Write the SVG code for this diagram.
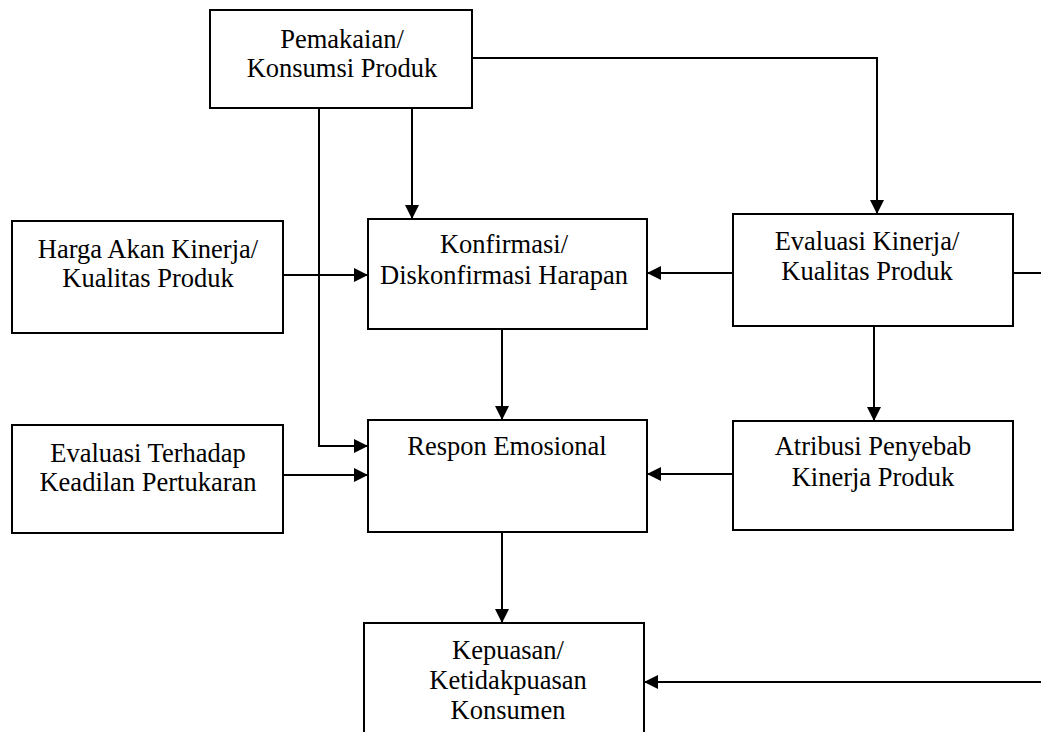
<svg xmlns="http://www.w3.org/2000/svg" width="1041" height="732" viewBox="0 0 1041 732">
<style>
.box{fill:#fff;stroke:#000;stroke-width:2}
.t{font-family:"Liberation Serif","Times New Roman",serif;font-size:26.5px;fill:#000;text-anchor:middle}
.c{fill:none;stroke:#000;stroke-width:2}
</style>
<defs>
<marker id="ah" viewBox="0 0 14 14" refX="14" refY="7" markerWidth="14" markerHeight="14" markerUnits="userSpaceOnUse" orient="auto">
<path d="M0 0 L14 7 L0 14 Z" fill="#000"/>
</marker>
</defs>
<rect width="1041" height="732" fill="#fff"/>
<g id="connectors">
<path class="c" d="M412 108 V219" marker-end="url(#ah)"/>
<path class="c" d="M319 108 V446 H368" marker-end="url(#ah)"/>
<path class="c" d="M472 58 H877 V214" marker-end="url(#ah)"/>
<path class="c" d="M283 275 H368" marker-end="url(#ah)"/>
<path class="c" d="M733 273 H647" marker-end="url(#ah)"/>
<path class="c" d="M502 329 V420" marker-end="url(#ah)"/>
<path class="c" d="M874 326 V421" marker-end="url(#ah)"/>
<path class="c" d="M283 475 H368" marker-end="url(#ah)"/>
<path class="c" d="M733 474 H647" marker-end="url(#ah)"/>
<path class="c" d="M502 532 V623" marker-end="url(#ah)"/>
<path class="c" d="M1013 273 H1050 V682 H644" marker-end="url(#ah)"/>
</g>
<g id="pemakaian">
<rect class="box" x="210" y="10" width="262" height="98"/>
<text class="t" x="342" y="48">Pemakaian/</text>
<text class="t" x="342" y="77">Konsumsi Produk</text>
</g>
<g id="harga">
<rect class="box" x="12" y="221" width="271" height="112"/>
<text class="t" x="148" y="258">Harga Akan Kinerja/</text>
<text class="t" x="148" y="287">Kualitas Produk</text>
</g>
<g id="konfirmasi">
<rect class="box" x="368" y="219" width="279" height="110"/>
<text class="t" x="504" y="253">Konfirmasi/</text>
<text class="t" x="504" y="284">Diskonfirmasi Harapan</text>
</g>
<g id="evaluasi-kinerja">
<rect class="box" x="733" y="214" width="280" height="112"/>
<text class="t" x="867" y="250">Evaluasi Kinerja/</text>
<text class="t" x="867" y="280">Kualitas Produk</text>
</g>
<g id="evaluasi-keadilan">
<rect class="box" x="12" y="425" width="271" height="108"/>
<text class="t" x="148" y="462">Evaluasi Terhadap</text>
<text class="t" x="148" y="491">Keadilan Pertukaran</text>
</g>
<g id="respon">
<rect class="box" x="368" y="420" width="279" height="112"/>
<text class="t" x="507" y="455">Respon Emosional</text>
</g>
<g id="atribusi">
<rect class="box" x="733" y="421" width="280" height="109"/>
<text class="t" x="873" y="455">Atribusi Penyebab</text>
<text class="t" x="873" y="486">Kinerja Produk</text>
</g>
<g id="kepuasan">
<rect class="box" x="364" y="623" width="280" height="130"/>
<text class="t" x="508" y="659">Kepuasan/</text>
<text class="t" x="508" y="689">Ketidakpuasan</text>
<text class="t" x="508" y="719">Konsumen</text>
</g>
</svg>
